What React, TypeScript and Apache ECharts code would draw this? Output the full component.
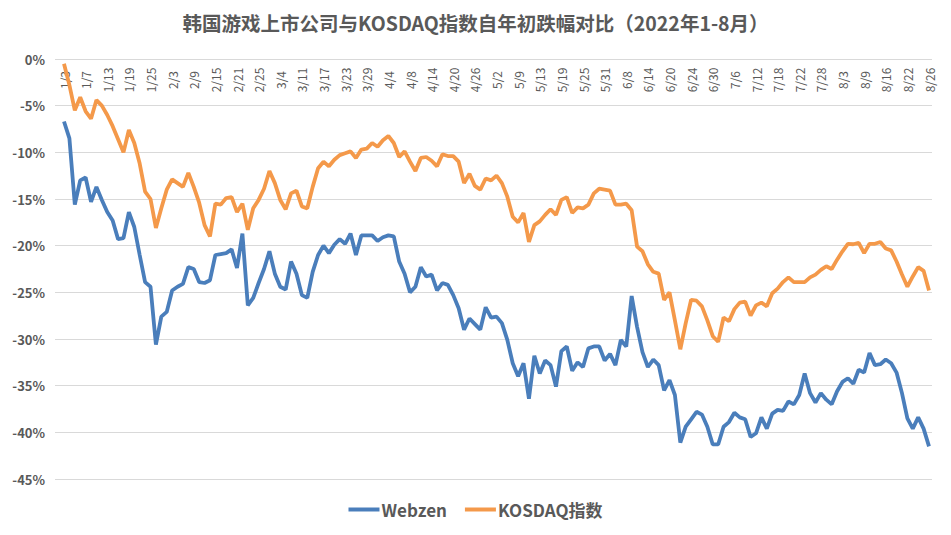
import React, { useEffect, useRef } from "react";
import * as echarts from "echarts";

const titleText = "韩国游戏上市公司与KOSDAQ指数自年初跌幅对比（2022年1-8月）";

const dates: string[] = [
  "1/3","1/4","1/5","1/6","1/7","1/10","1/11","1/12","1/13","1/14","1/17","1/18","1/19","1/20","1/21","1/24","1/25","1/26","1/27","1/28",
  "2/3","2/4","2/7","2/8","2/9","2/10","2/11","2/14","2/15","2/16","2/17","2/18","2/21","2/22","2/23","2/24","2/25","2/28",
  "3/2","3/3","3/4","3/7","3/8","3/10","3/11","3/14","3/15","3/16","3/17","3/18","3/21","3/22","3/23","3/24","3/25","3/28","3/29","3/30","3/31",
  "4/1","4/4","4/5","4/6","4/7","4/8","4/11","4/12","4/13","4/14","4/15","4/18","4/19","4/20","4/21","4/22","4/25","4/26","4/27","4/28","4/29",
  "5/2","5/3","5/4","5/6","5/9","5/10","5/11","5/12","5/13","5/16","5/17","5/18","5/19","5/20","5/23","5/24","5/25","5/26","5/27","5/30","5/31",
  "6/2","6/3","6/7","6/8","6/9","6/10","6/13","6/14","6/15","6/16","6/17","6/20","6/21","6/22","6/23","6/24","6/27","6/28","6/29","6/30",
  "7/1","7/4","7/5","7/6","7/7","7/8","7/11","7/12","7/13","7/14","7/15","7/18","7/19","7/20","7/21","7/22","7/25","7/26","7/27","7/28","7/29",
  "8/1","8/2","8/3","8/4","8/5","8/8","8/9","8/10","8/11","8/12","8/16","8/17","8/18","8/19","8/22","8/23","8/24","8/25","8/26"
];

const webzen: number[] = [
  -6.7,-8.5,-15.6,-13.0,-12.7,-15.3,-13.7,-15.1,-16.4,-17.3,-19.3,-19.2,-16.4,-18.0,-21.0,-23.9,-24.4,-30.6,-27.6,-27.1,
  -24.8,-24.4,-24.1,-22.3,-22.5,-23.9,-24.0,-23.7,-21.0,-20.9,-20.8,-20.4,-22.4,-18.7,-26.4,-25.6,-24.0,-22.5,
  -20.6,-23.0,-24.4,-24.7,-21.7,-23.0,-25.3,-25.6,-22.8,-21.0,-20.0,-20.8,-19.9,-19.3,-19.8,-18.7,-21.0,-18.9,-18.9,-18.9,-19.5,
  -19.1,-18.9,-19.0,-21.7,-23.0,-25.0,-24.4,-22.3,-23.3,-23.1,-24.8,-24.0,-24.2,-25.3,-26.7,-29.0,-27.8,-28.4,-29.0,-26.6,-27.7,
  -27.6,-28.3,-30.1,-32.6,-34.0,-32.6,-36.4,-31.8,-33.7,-32.3,-32.8,-35.1,-31.3,-30.8,-33.4,-32.5,-33.0,-31.0,-30.8,-30.8,-32.3,
  -31.6,-32.8,-30.1,-30.8,-25.4,-28.7,-31.4,-33.0,-32.2,-32.8,-35.5,-34.4,-36.0,-41.1,-39.4,-38.6,-37.8,-38.1,-39.4,-41.3,
  -41.3,-39.4,-38.9,-37.9,-38.4,-38.6,-40.5,-40.1,-38.4,-39.6,-38.0,-37.6,-37.7,-36.7,-37.0,-36.0,-33.7,-35.8,-36.8,-35.8,-36.5,
  -37.0,-35.6,-34.6,-34.2,-34.8,-33.3,-33.6,-31.5,-32.8,-32.7,-32.2,-32.6,-33.6,-35.8,-38.5,-39.6,-38.4,-39.6,-41.5
];

const kosdaq: number[] = [
  -0.5,-2.8,-5.5,-4.1,-5.6,-6.4,-4.4,-5.0,-6.0,-7.2,-8.6,-10.0,-7.6,-9.0,-11.2,-14.2,-15.0,-18.1,-16.0,-14.0,
  -12.9,-13.3,-13.7,-12.2,-13.7,-15.4,-17.8,-19.0,-15.5,-15.6,-14.9,-14.8,-16.4,-15.5,-18.3,-16.0,-15.1,-13.9,
  -12.0,-13.3,-15.1,-16.1,-14.4,-14.1,-15.8,-16.0,-13.7,-11.7,-11.0,-11.5,-10.8,-10.3,-10.1,-9.9,-10.6,-9.7,-9.6,-9.0,-9.4,
  -8.7,-8.25,-9.0,-10.5,-9.9,-11.0,-12.0,-10.6,-10.5,-10.9,-11.5,-10.2,-10.4,-10.4,-11.0,-13.3,-12.3,-13.6,-14.0,-12.8,-13.0,
  -12.5,-13.3,-14.75,-16.9,-17.5,-16.5,-19.6,-17.8,-17.4,-16.7,-16.1,-16.7,-15.1,-14.8,-16.5,-15.9,-16.0,-15.6,-14.4,-13.9,-14.0,
  -14.1,-15.6,-15.6,-15.5,-16.2,-20.1,-20.6,-22.0,-22.8,-23.0,-25.8,-25.0,-28.0,-31.1,-28.3,-25.8,-25.9,-26.5,-28.0,-29.7,
  -30.3,-27.7,-28.1,-26.8,-26.1,-26.0,-27.5,-26.4,-26.1,-26.5,-25.1,-24.6,-23.9,-23.4,-23.9,-23.9,-23.9,-23.4,-23.1,-22.6,-22.2,
  -22.5,-21.5,-20.6,-19.8,-19.85,-19.7,-20.8,-19.8,-19.8,-19.6,-20.3,-20.5,-21.7,-23.1,-24.4,-23.3,-22.3,-22.7,-24.8
];

const seriesNames = ["Webzen", "KOSDAQ指数"];
const colors = ["#4a7ebb", "#f4994a"];

export default function App() {
  const ref = useRef<HTMLDivElement>(null);
  useEffect(() => {
    if (!ref.current) return;
    const chart = echarts.init(ref.current, undefined, { renderer: "svg" });
    const font = "'Noto Sans CJK SC', 'Open Sans', sans-serif";
    chart.setOption({
      animation: false,
      backgroundColor: "#ffffff",
      textStyle: { fontFamily: font },
      title: {
        text: titleText,
        left: "center",
        top: 8,
        textStyle: { fontSize: 19.5, fontWeight: "bold", color: "#595959", fontFamily: font },
      },
      legend: {
        bottom: 12,
        left: "center",
        icon: "rect",
        itemWidth: 31,
        itemHeight: 4,
        itemGap: 18,
        data: seriesNames,
        textStyle: { fontSize: 17, fontWeight: "bold", color: "#595959", fontFamily: font, padding: [0, 0, 0, -3] },
      },
      grid: [
        { left: 55, right: 19, top: 59, bottom: 56 },
        { left: 64, right: 22, top: 59, bottom: 56 },
      ],
      xAxis: [
        { gridIndex: 0, type: "value", show: false, min: 0, max: 1 },
        {
          gridIndex: 1,
          type: "category",
          data: dates,
          boundaryGap: false,
          position: "top",
          axisLine: { show: false },
          axisTick: { show: false },
          axisLabel: {
            inside: true,
            interval: 3,
            rotate: 90,
            align: "center",
            verticalAlign: "middle",
            fontSize: 12,
            color: "#595959",
            margin: 21,
            fontFamily: font,
          },
          splitLine: { show: false },
        },
      ],
      yAxis: [
        {
          gridIndex: 0,
          type: "value",
          min: -45,
          max: 0,
          interval: 5,
          axisLine: { show: false },
          axisTick: { show: false },
          axisLabel: {
            formatter: (v: number) => `${v}%`,
            fontSize: 13,
            fontWeight: "bold",
            color: "#595959",
            margin: 10,
            fontFamily: font,
          },
          splitLine: { lineStyle: { color: "#d9d9d9", width: 1 } },
        },
        {
          gridIndex: 1,
          type: "value",
          min: -45,
          max: 0,
          axisLine: { show: false },
          axisTick: { show: false },
          axisLabel: { show: false },
          splitLine: { show: false },
        },
      ],
      series: [
        {
          name: seriesNames[0],
          type: "line",
          xAxisIndex: 1,
          yAxisIndex: 1,
          data: webzen,
          showSymbol: false,
          symbol: "none",
          lineStyle: { color: colors[0], width: 3.8 },
          itemStyle: { color: colors[0] },
        },
        {
          name: seriesNames[1],
          type: "line",
          xAxisIndex: 1,
          yAxisIndex: 1,
          data: kosdaq,
          showSymbol: false,
          symbol: "none",
          lineStyle: { color: colors[1], width: 3.8 },
          itemStyle: { color: colors[1] },
        },
      ],
    });
    return () => chart.dispose();
  }, []);
  return <div ref={ref} style={{ width: 951, height: 535, position: "absolute", left: 0, top: 0 }} />;
}
